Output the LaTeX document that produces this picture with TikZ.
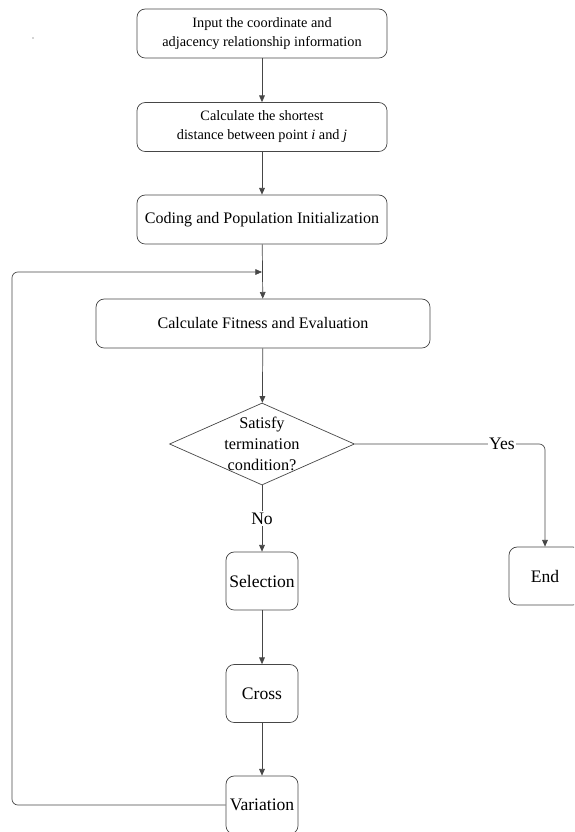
\documentclass[tikz,border=0pt]{standalone}
\usepackage{fontspec}
\setmainfont{Liberation Serif}
\usepackage{xcolor}
\usepackage{tikz}
\usetikzlibrary{arrows.meta,positioning,calc,shapes.geometric}
\definecolor{LineGray}{RGB}{70,70,70}

\begin{document}
\begin{tikzpicture}[
    font=\fontsize{12.2}{16.3}\selectfont,
    box/.style={draw=LineGray, line width=0.6pt, rounded corners=7pt,
                minimum width=7.5cm, minimum height=1.47cm, align=center},
    widebox/.style={box, minimum width=10.02cm, font=\fontsize{13.7}{16}\selectfont},
    smallbox/.style={box, minimum width=2.16cm, minimum height=1.74cm, inner sep=1pt,
                font=\fontsize{15}{16}\selectfont},
    decision/.style={diamond, draw=LineGray, line width=0.6pt, aspect=2.3,
                inner xsep=-3pt, inner ysep=-4pt,
                minimum width=5.55cm, minimum height=2.46cm, align=center,
                font=\fontsize{13.9}{17.8}\selectfont},
    flow/.style={draw=LineGray, line width=0.6pt, -{Triangle[length=2mm,width=1.7mm]}},
    tag/.style={fill=white, inner sep=1pt, font=\fontsize{15}{16}\selectfont}
  ]

  % Rahmen: Bildgroesse festlegen
  \clip (0,0) rectangle (17.22,-24.96);

  \node[circle, fill=LineGray, inner sep=0.4pt] (dot) at (0.99,-1.14) {};

  % Vorbereitung
  \node[box] (input) at (7.86,-1.005)
  {Input the coordinate and\\adjacency relationship information};
  \node[box] (dist) at (7.86,-3.81)
  {Calculate the shortest\\distance between point \textit{i} and \textit{j}};
  \node[widebox, minimum width=7.5cm] (init) at (7.86,-6.585)
  {Coding and Population Initialization};

  % Hauptschleife
  \node[widebox] (fit) at (7.89,-9.705) {Calculate Fitness and Evaluation};
  \node[decision] (cond) at (7.86,-13.32) {Satisfy\\termination\\condition?};

  \node[smallbox] (sel) at (7.86,-17.43) {Selection};
  \node[smallbox] (cross) at (7.86,-20.805) {Cross};
  \node[smallbox] (var) at (7.86,-24.15) {Variation};
  \node[smallbox] (stop) at (16.35,-17.28) {End};

  \coordinate (merge) at (7.86,-8.16);
  \coordinate (back) at (0.36,-8.16);

  \draw[flow] (input) -- (dist);
  \draw[flow] (dist) -- (init);
  \draw[flow] (init) -- (fit);
  \draw[flow] (fit) -- (cond);
  \draw[flow] (cond) -- node[tag] {No} (sel);
  \draw[flow] (sel) -- (cross);
  \draw[flow] (cross) -- (var);

  % Ja-Zweig zum Ende
  \draw[flow, rounded corners=5pt] (cond.east) -| node[tag, pos=0.387] {Yes} (stop.north);

  % Rueckfuehrung
  \draw[flow, rounded corners=5pt] (var.west) -| (back) -- (merge);

\end{tikzpicture}
\end{document}
